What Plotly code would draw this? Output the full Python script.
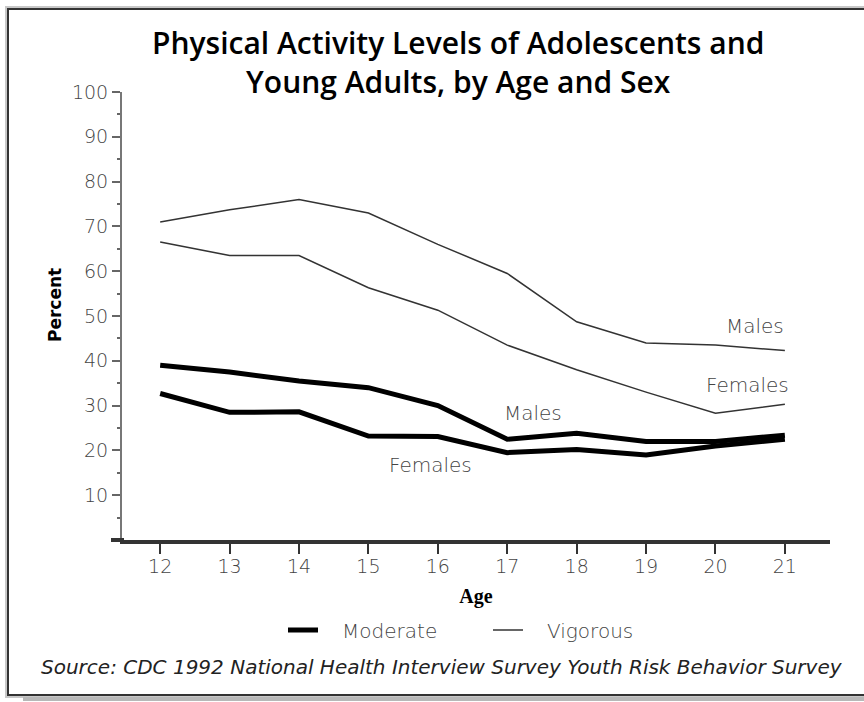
import plotly.graph_objects as go

ages = [12, 13, 14, 15, 16, 17, 18, 19, 20, 21]
vigorous_males = [71, 73.7, 76, 73, 66, 59.5, 48.7, 44, 43.5, 42.3]
vigorous_females = [66.5, 63.5, 63.5, 56.3, 51.3, 43.5, 38, 33, 28.3, 30.3]
moderate_males = [39, 37.5, 35.5, 34, 30, 22.5, 23.8, 22, 22, 23.4]
moderate_females = [32.7, 28.5, 28.6, 23.2, 23.1, 19.5, 20.2, 19, 21, 22.5]

y_ticks = [10, 20, 30, 40, 50, 60, 70, 80, 90, 100]

title_text = "Physical Activity Levels of Adolescents and<br>Young Adults, by Age and Sex"
source_text = "Source: CDC 1992 National Health Interview Survey Youth Risk Behavior Survey"

# pixel geometry of plot area
L, R, T, B = 122, 830, 92, 540
W, H = R - L, B - T


def px(x):
    return (x - L) / W


def py(y):
    return (B - y) / H


TICK_FONT = dict(family="DejaVu Sans, sans-serif", size=19, color="#444444", weight=300)
NB = "\u00a0"

fig = go.Figure()
fig.add_trace(go.Scatter(x=ages, y=moderate_males, mode="lines", name=NB * 3 + "Moderate",
                         line=dict(color="black", width=5), legendgroup="m"))
fig.add_trace(go.Scatter(x=ages, y=moderate_females, mode="lines", name=NB * 3 + "Moderate",
                         line=dict(color="black", width=5), showlegend=False, legendgroup="m"))
fig.add_trace(go.Scatter(x=ages, y=vigorous_males, mode="lines", name=NB * 3 + "Vigorous",
                         line=dict(color="#333333", width=1.5), legendgroup="v"))
fig.add_trace(go.Scatter(x=ages, y=vigorous_females, mode="lines", name=NB * 3 + "Vigorous",
                         line=dict(color="#333333", width=1.5), showlegend=False, legendgroup="v"))

LABEL_FONT = dict(family="DejaVu Sans, sans-serif", size=20, color="#444444", weight=300)
labels = [
    (20.57, 47.8, "Males"),
    (20.46, 34.6, "Females"),
    (17.37, 28.3, "Males"),
    (15.89, 16.7, "Females"),
]
for x, y, t in labels:
    fig.add_annotation(x=x, y=y, text=t, showarrow=False, font=LABEL_FONT,
                       xanchor="center", yanchor="middle")

fig.add_annotation(xref="paper", yref="paper", x=px(458), y=py(62), text=title_text,
                   showarrow=False, xanchor="center", yanchor="middle",
                   font=dict(family="Open Sans, sans-serif", size=30, color="black", weight=600))
fig.add_annotation(xref="paper", yref="paper", x=px(442), y=py(667), text="<i>" + source_text + "</i>",
                   showarrow=False, xanchor="center", yanchor="middle",
                   font=dict(family="DejaVu Sans, sans-serif", size=20, color="#222222"))
fig.add_annotation(xref="paper", yref="paper", x=px(55), y=py(305), text="<b>Percent</b>",
                   textangle=-90, showarrow=False, xanchor="center", yanchor="middle",
                   font=dict(family="DejaVu Sans, sans-serif", size=17, color="black"))

# frame with shadow
shapes = [
    dict(type="rect", xref="paper", yref="paper", x0=px(6), x1=px(880), y0=py(697), y1=py(7),
         line=dict(color="#c8c8c8", width=2), fillcolor="rgba(0,0,0,0)", layer="below"),
    dict(type="line", xref="paper", yref="paper", x0=px(23), x1=px(870), y0=py(699), y1=py(699),
         line=dict(color="#b8b8b8", width=4), layer="below"),
    dict(type="rect", xref="paper", yref="paper", x0=px(8), x1=px(880), y0=py(695), y1=py(9),
         line=dict(color="#333333", width=2), fillcolor="white", layer="below"),
    dict(type="line", xref="paper", yref="paper", x0=px(111), x1=px(124), y0=0, y1=0,
         line=dict(color="#333333", width=4), layer="above"),
]

fig.update_layout(
    width=864, height=702,
    margin=dict(l=L, r=864 - R, t=T, b=702 - B),
    paper_bgcolor="white", plot_bgcolor="white",
    shapes=shapes,
    showlegend=True,
    legend=dict(orientation="h", x=px(283), y=py(630), xanchor="left", yanchor="middle",
                font=LABEL_FONT, bgcolor="rgba(0,0,0,0)", entrywidth=160, entrywidthmode="pixels",
                traceorder="normal"),
    xaxis=dict(range=[11.45, 21.65], tickvals=ages, ticks="outside", ticklen=10, tickwidth=2,
               tickcolor="#333333", showline=True, linecolor="#333333", linewidth=4,
               showgrid=False, zeroline=False, tickfont=TICK_FONT, ticklabelstandoff=-4,
               title=dict(text="Age", font=dict(family="Liberation Serif, serif", size=20,
                                                 color="black", weight="bold"), standoff=14)),
    yaxis=dict(range=[0, 100], tickvals=y_ticks, ticks="outside", ticklen=8, tickwidth=2,
               tickcolor="#666666", showline=True, linecolor="#777777", linewidth=2,
               showgrid=False, zeroline=False, tickfont=TICK_FONT,
               minor=dict(dtick=5, ticks="outside", ticklen=3, tickcolor="#666666", tickwidth=2)),
)

fig.write_html("out.html", config={"displayModeBar": False},
               post_script="document.body.style.margin='0';document.body.style.padding='0';"
                           "document.body.style.overflow='hidden';")
